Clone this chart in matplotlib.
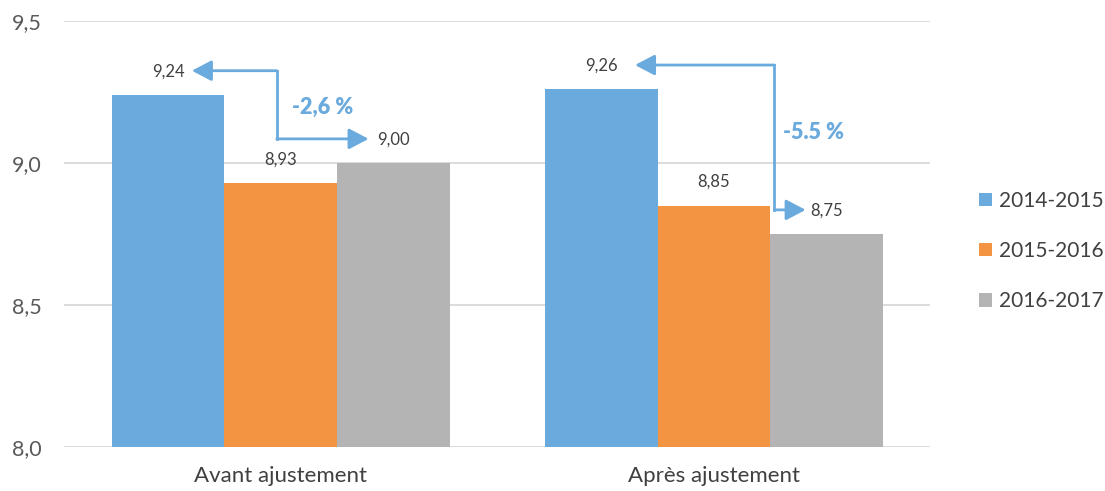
import matplotlib.pyplot as plt
import numpy as np

plt.rcParams['font.family'] = ['Lato', 'DejaVu Sans']

categories = ["Avant ajustement", "Après ajustement"]
series = ["2014-2015", "2015-2016", "2016-2017"]
values = {
    "2014-2015": [9.24, 9.26],
    "2015-2016": [8.93, 8.85],
    "2016-2017": [9.00, 8.75],
}
value_labels = {
    "2014-2015": ["9,24", "9,26"],
    "2015-2016": ["8,93", "8,85"],
    "2016-2017": ["9,00", "8,75"],
}
changes = ["-2,6 %", "-5.5 %"]
yticks = [8.0, 8.5, 9.0, 9.5]
ytick_labels = ["8,0", "8,5", "9,0", "9,5"]

colors = ["#6AAADD", "#F29441", "#B4B4B4"]
arrow_color = "#6AAADD"
text_color = "#404040"

fig = plt.figure(figsize=(11.05, 4.91), dpi=100)
ax = fig.add_axes([0.058, 0.0896, 0.784, 0.8676])

x = np.arange(len(categories))
w = 0.26
for i, (s, c) in enumerate(zip(series, colors)):
    xs = x + (i - 1) * w
    ax.bar(xs, np.array(values[s]) - 8.0, bottom=8.0, width=w, color=c, label=s, zorder=2)
    for xi, v, lab in zip(xs, values[s], value_labels[s]):
        ax.annotate(lab, (xi, v), xytext=(0, 17), textcoords="offset points",
                    ha="center", va="center", fontsize=12, color=text_color)

# change arrows: from first-year label to last-year label
label_off = 0.085
arrow_specs = [
    # (left tip dx, vertical dx, right tip dx, text x, text y)
    (-0.205, -0.009, 0.203, 0.097, 9.197),
    (-0.182, 0.140, 0.212, 0.230, 9.106),
]
for g, (xl, xv, xr, tx, ty) in enumerate(arrow_specs):
    y1 = values["2014-2015"][g] + label_off
    y2 = values["2016-2017"][g] + label_off
    aprops = dict(arrowstyle="-|>,head_length=0.8,head_width=0.42", color=arrow_color,
                  lw=2, mutation_scale=15, shrinkA=0, shrinkB=0)
    ax.annotate("", xy=(g + xl, y1), xytext=(g + xv, y1), arrowprops=aprops, zorder=4)
    ax.plot([g + xv, g + xv], [y1, y2], color=arrow_color, lw=2, zorder=4,
            solid_capstyle="projecting")
    ax.annotate("", xy=(g + xr, y2), xytext=(g + xv, y2), arrowprops=aprops, zorder=4)
    ax.text(g + tx, ty, changes[g], ha="center", va="center", fontsize=15.5,
            fontweight="heavy", color=arrow_color)

ax.set_xlim(-0.5, 1.5)
ax.set_ylim(8.0, 9.5)
ax.set_yticks(yticks)
ax.set_yticklabels(ytick_labels)
ax.set_xticks(x)
ax.set_xticklabels(categories)
ax.grid(axis="y", color="#D9D9D9", lw=1.3, zorder=0)
ax.set_axisbelow(True)
for sp in ax.spines.values():
    sp.set_visible(False)
ax.tick_params(axis="y", length=0, pad=16, labelsize=15.5, labelcolor="#595959")
ax.tick_params(axis="x", length=0, pad=14, labelsize=16, labelcolor="#404040")

ax.legend(loc="center left", bbox_to_anchor=(1.035, 0.46), frameon=False,
          fontsize=15, labelspacing=1.45, handlelength=0.6, handleheight=0.6,
          handletextpad=0.35, labelcolor="#404040")

plt.savefig("out.png", dpi=100)
